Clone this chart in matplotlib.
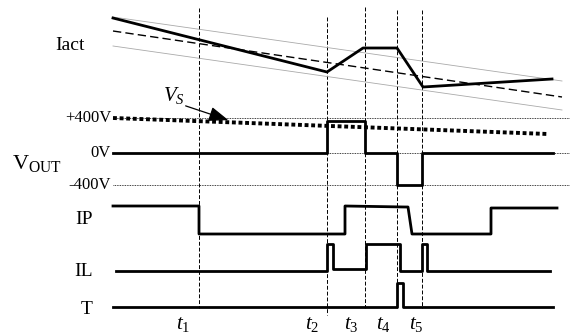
import numpy as np
import matplotlib.pyplot as plt

plt.rcParams['font.family'] = 'Liberation Serif'
plt.rcParams['mathtext.fontset'] = 'custom'
plt.rcParams['mathtext.rm'] = 'Liberation Serif'
plt.rcParams['mathtext.it'] = 'Liberation Serif:italic'

# event times (pixel x) and their labels
t_marks = [199, 327, 365, 397, 422]
t_names = ['1', '2', '3', '4', '5']
t_label_x = [183, 312, 351, 383, 416]
t_tops = [8, 17, 7, 10, 10]
t_bots = [308, 315, 308, 308, 308]

# Iact: actual current and the band around the reference
iact_x = [113, 327, 363, 397, 423, 552]
iact_y = [18, 72, 48, 48, 87, 79]
ref_x = [113, 562]
ref_y = [31, 97]
band_hi_y = [17, 81]
band_lo_y = [46, 110]

# output voltage levels
v_pos, v_zero, v_neg = 118, 153, 185
vs_x = [113, 548]
vs_y = [118, 134]
vout_x = [113, 327, 327, 365, 365, 397, 397, 422, 422, 553]
vout_y = [153, 153, 121, 121, 153, 153, 185, 185, 153, 153]

# logic signals
ip_x = [113, 199, 199, 345, 345, 405, 408, 412, 491, 491, 557]
ip_y = [206, 206, 234, 234, 206, 207, 207, 234, 234, 208, 208]
il_x = [116, 327, 327, 333, 333, 366, 366, 400, 400, 422, 422, 427, 427, 550]
il_y = [271, 271, 244, 244, 269, 269, 244, 244, 271, 271, 244, 244, 271, 271]
tt_x = [113, 397, 397, 403, 403, 553]
tt_y = [307, 307, 283, 283, 307, 307]

fig = plt.figure(figsize=(5.7, 3.35), dpi=100)
ax = fig.add_axes([0, 0, 1, 1])
ax.set_xlim(0, 570)
ax.set_ylim(335, 0)
ax.axis('off')

# vertical event lines and labels
for x, top, bot, n, lx in zip(t_marks, t_tops, t_bots, t_names, t_label_x):
    ax.plot([x, x], [top, bot], color='black', lw=0.7, ls=(0, (4, 2)))
    ax.text(lx, 325, r'$t_{\mathit{%s}}$' % n, fontsize=15, ha='center', va='center')

# Iact
ax.plot(ref_x, band_hi_y, color='#aaaaaa', lw=0.6)
ax.plot(ref_x, band_lo_y, color='#aaaaaa', lw=0.6)
ax.plot(ref_x, ref_y, color='black', lw=1.0, ls=(0, (6, 3)))
ax.plot(iact_x, iact_y, color='black', lw=2.0)
ax.text(70, 45, 'Iact', fontsize=14, ha='center', va='center')

# voltage reference lines
for lvl, lab in zip([v_pos, v_zero, v_neg], ['+400V', '0V', '-400V']):
    ax.plot([113, 570], [lvl, lvl], color='black', lw=0.6, ls=(0, (1, 1)))
    ax.text(111, lvl, lab, fontsize=12, ha='right', va='center')
ax.plot(vs_x, vs_y, color='black', lw=2.8, ls=(0, (1, 0.7)), dash_capstyle='butt')
ax.plot(vout_x, vout_y, color='black', lw=2.0)
ax.text(37, 163, r'$\mathrm{V}_{\mathrm{OUT}}$', fontsize=16, ha='center', va='center')
ax.text(174, 96, r'$V_S$', fontsize=15, ha='center', va='center')
ax.annotate('', xy=(231, 121), xytext=(183, 105),
            arrowprops=dict(arrowstyle='-|>,head_length=0.8,head_width=0.3',
                            color='black', lw=0.9, mutation_scale=15))

# logic signals
ax.plot(ip_x, ip_y, color='black', lw=2.0)
ax.plot(il_x, il_y, color='black', lw=2.0)
ax.plot(tt_x, tt_y, color='black', lw=2.0)
ax.text(84, 219, 'IP', fontsize=14, ha='center', va='center')
ax.text(84, 271, 'IL', fontsize=14, ha='center', va='center')
ax.text(87, 310, 'T', fontsize=14, ha='center', va='center')

fig.savefig('out.png', dpi=100)
